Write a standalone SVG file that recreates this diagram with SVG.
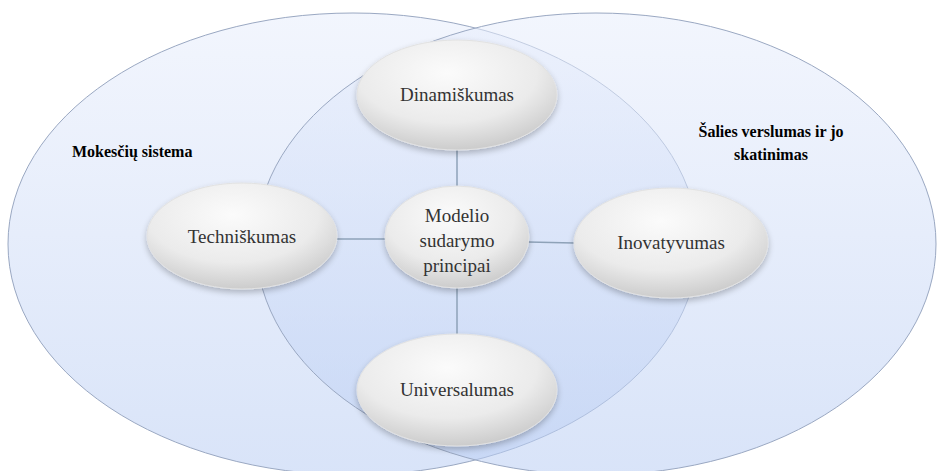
<svg xmlns="http://www.w3.org/2000/svg" width="937" height="471" viewBox="0 0 937 471">
  <defs>
    <linearGradient id="bigFill" x1="0" y1="0" x2="0" y2="1">
      <stop offset="0" stop-color="#e8eefc" stop-opacity="0.55"/>
      <stop offset="1" stop-color="#b9cdf3" stop-opacity="0.55"/>
    </linearGradient>
    <radialGradient id="nodeFill" cx="0.45" cy="0.3" r="0.75">
      <stop offset="0" stop-color="#fbfbfb"/>
      <stop offset="0.6" stop-color="#ebebeb"/>
      <stop offset="1" stop-color="#c6c6c6"/>
    </radialGradient>
    <filter id="shadow" x="-20%" y="-20%" width="140%" height="150%">
      <feGaussianBlur in="SourceAlpha" stdDeviation="3"/>
      <feOffset dx="0" dy="3"/>
      <feComponentTransfer><feFuncA type="linear" slope="0.25"/></feComponentTransfer>
      <feMerge><feMergeNode/><feMergeNode in="SourceGraphic"/></feMerge>
    </filter>
  </defs>
  <style>
    .big { fill: url(#bigFill); stroke: #9aa8c2; stroke-width: 1; }
    .node { fill: url(#nodeFill); stroke: #e2e2e2; stroke-width: 1; filter: url(#shadow); }
    .conn { stroke: #8ea2b8; stroke-width: 1.5; fill: none; }
  </style>
  <rect width="937" height="471" fill="#ffffff"/>

  <g id="set-left">
    <ellipse class="big" cx="353" cy="244" rx="345" ry="231"/>
    <text font-family="Liberation Serif" font-size="16" font-weight="bold" fill="#000" x="72" y="157">Mokesčių sistema</text>
  </g>
  <g id="set-right">
    <ellipse class="big" cx="596" cy="244" rx="340" ry="231"/>
    <g font-family="Liberation Serif" font-size="16" font-weight="bold" fill="#000" text-anchor="middle">
      <text x="771" y="137">Šalies verslumas ir jo</text>
      <text x="771" y="160">skatinimas</text>
    </g>
  </g>

  <g id="connectors">
    <line class="conn" x1="457" y1="148" x2="457" y2="188"/>
    <line class="conn" x1="457" y1="286" x2="457" y2="334"/>
    <line class="conn" x1="336" y1="239" x2="386" y2="239"/>
    <line class="conn" x1="528" y1="242" x2="574" y2="243"/>
  </g>

  <g font-family="Liberation Serif" font-size="19" fill="#333333" text-anchor="middle">
    <g id="node-dinamiskumas">
      <ellipse class="node" cx="457" cy="95" rx="100" ry="55"/>
      <text x="457" y="101">Dinamiškumas</text>
    </g>
    <g id="node-techniskumas">
      <ellipse class="node" cx="242" cy="236" rx="95" ry="53"/>
      <text x="242" y="243">Techniškumas</text>
    </g>
    <g id="node-center">
      <ellipse class="node" cx="457" cy="237" rx="72" ry="51"/>
      <text x="457" y="222">Modelio</text>
      <text x="457" y="247">sudarymo</text>
      <text x="457" y="272">principai</text>
    </g>
    <g id="node-inovatyvumas">
      <ellipse class="node" cx="671" cy="243" rx="97" ry="55"/>
      <text x="671" y="249">Inovatyvumas</text>
    </g>
    <g id="node-universalumas">
      <ellipse class="node" cx="457" cy="390" rx="100" ry="56"/>
      <text x="457" y="396">Universalumas</text>
    </g>
  </g>
</svg>
